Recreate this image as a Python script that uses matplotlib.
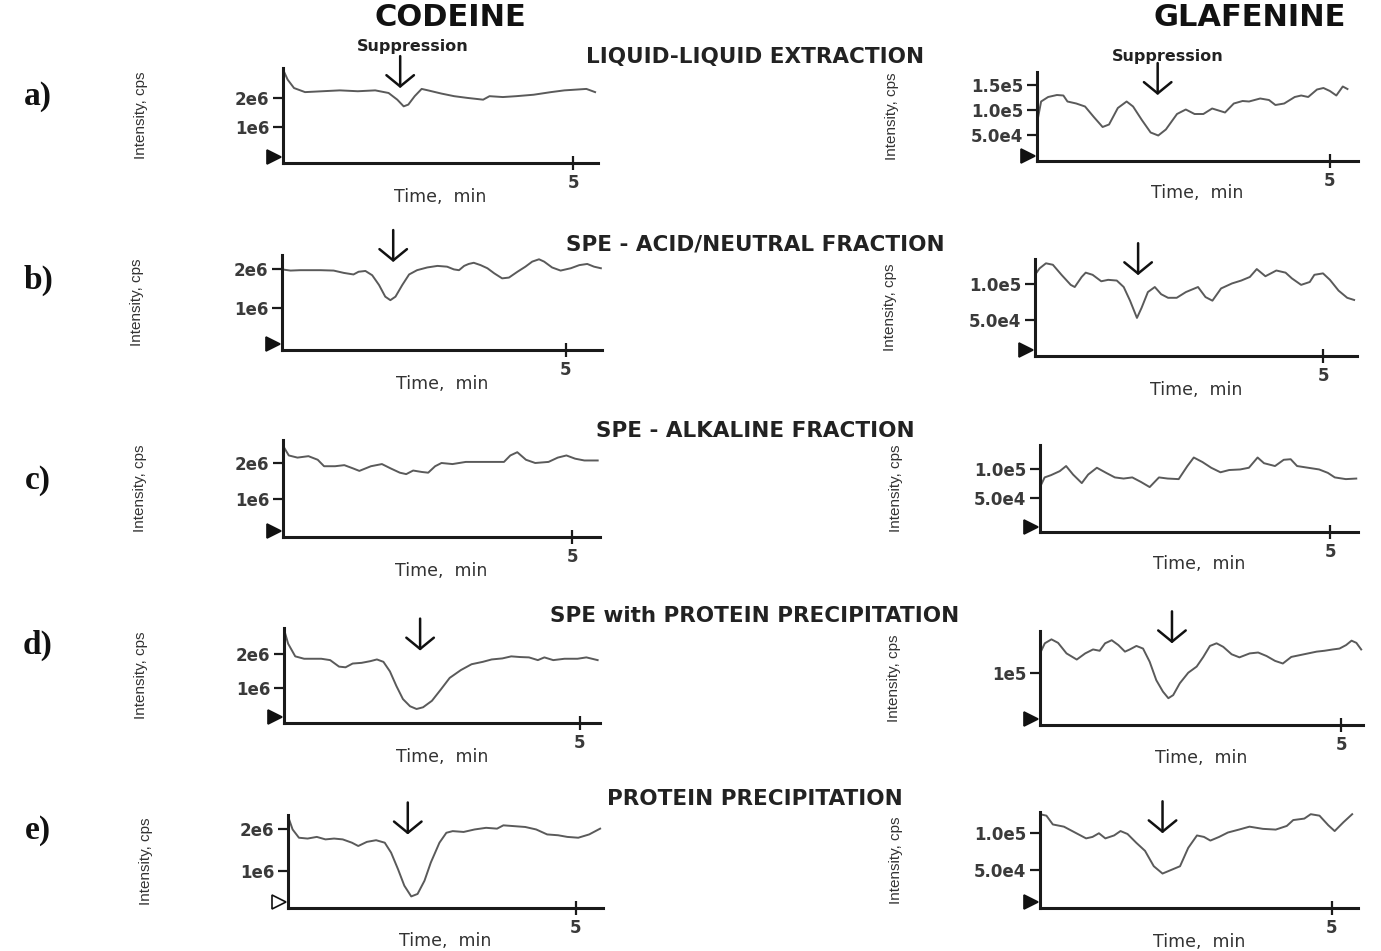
import numpy as np
import matplotlib
matplotlib.use("Agg")
import matplotlib.pyplot as plt

plt.rcParams['font.family'] = ['Liberation Sans', 'DejaVu Sans']

W, H = 1381, 951

# ---- post-column infusion traces: time (min), intensity ----
# codeine traces are in 1e6 cps, glafenine traces in 1e4 cps
cod_a_t = [0, 0.08, 0.19, 0.38, 0.68, 0.98, 1.29, 1.59, 1.82, 1.97, 2.08, 2.16, 2.27, 2.39, 2.5,
           2.73, 2.95, 3.18, 3.45, 3.56, 3.79, 4.02, 4.32, 4.62, 4.85, 5.08, 5.23, 5.38]
cod_a_y = [2.98, 2.63, 2.34, 2.2, 2.23, 2.26, 2.23, 2.26, 2.17, 1.94, 1.71, 1.77, 2.06, 2.31, 2.26,
           2.15, 2.06, 2.0, 1.94, 2.06, 2.03, 2.06, 2.11, 2.2, 2.26, 2.29, 2.31, 2.2]

gla_a_t = [0, 0.07, 0.19, 0.34, 0.45, 0.52, 0.67, 0.82, 0.97, 1.12, 1.23, 1.38, 1.53, 1.64, 1.79,
           1.94, 2.07, 2.2, 2.39, 2.54, 2.69, 2.84, 2.99, 3.1, 3.21, 3.36, 3.51, 3.62, 3.81, 3.96,
           4.07, 4.22, 4.4, 4.51, 4.63, 4.78, 4.89, 5.0, 5.11, 5.22, 5.3]
gla_a_y = [7.4, 11.7, 12.6, 13.0, 12.9, 11.7, 11.3, 10.7, 8.6, 6.6, 7.1, 10.4, 11.7, 10.7, 8.0,
           5.5, 4.9, 6.1, 9.2, 10.1, 9.2, 9.2, 10.3, 9.9, 9.5, 11.3, 11.8, 11.7, 12.3, 12.0,
           11.0, 11.3, 12.6, 12.9, 12.6, 14.1, 14.4, 13.8, 12.9, 14.7, 14.2]

cod_b_t = [0, 0.15, 0.32, 0.68, 0.91, 1.09, 1.26, 1.35, 1.47, 1.59, 1.71, 1.82, 1.91, 2.0, 2.12,
           2.24, 2.38, 2.56, 2.74, 2.91, 3.03, 3.12, 3.21, 3.29, 3.38, 3.5, 3.62, 3.74, 3.88, 4.0,
           4.15, 4.29, 4.41, 4.53, 4.62, 4.76, 4.91, 5.09, 5.24, 5.38, 5.5, 5.62]
cod_b_y = [2.0, 1.97, 1.98, 1.98, 1.97, 1.91, 1.87, 1.94, 1.96, 1.85, 1.6, 1.3, 1.21, 1.3, 1.6,
           1.87, 1.98, 2.05, 2.09, 2.07, 2.0, 1.98, 2.09, 2.14, 2.17, 2.11, 2.03, 1.9, 1.77, 1.79,
           1.94, 2.07, 2.2, 2.26, 2.2, 2.05, 1.97, 2.03, 2.11, 2.14, 2.07, 2.03]

gla_b_t = [0, 0.08, 0.19, 0.31, 0.46, 0.62, 0.69, 0.81, 0.88, 1.0, 1.15, 1.27, 1.42, 1.54, 1.65,
           1.77, 1.85, 1.96, 2.08, 2.19, 2.31, 2.46, 2.62, 2.83, 2.96, 3.08, 3.23, 3.42, 3.58, 3.73,
           3.85, 4.0, 4.19, 4.35, 4.46, 4.62, 4.77, 4.85, 5.0, 5.12, 5.27, 5.42, 5.54]
gla_b_y = [11.3, 12.2, 12.9, 12.7, 11.3, 9.9, 9.6, 11.0, 11.6, 11.3, 10.4, 10.6, 10.5, 9.6, 7.7,
           5.3, 6.7, 8.9, 9.6, 8.6, 8.1, 8.1, 8.9, 9.6, 8.2, 7.7, 9.4, 10.1, 10.5, 11.0,
           12.1, 11.1, 11.9, 11.6, 10.8, 9.9, 10.3, 11.3, 11.5, 10.6, 9.1, 8.1, 7.8]

cod_c_t = [0, 0.1, 0.25, 0.44, 0.6, 0.71, 0.9, 1.06, 1.21, 1.32, 1.52, 1.71, 1.86, 2.02, 2.13,
           2.25, 2.4, 2.51, 2.63, 2.74, 2.93, 3.16, 3.43, 3.66, 3.82, 3.93, 4.05, 4.2, 4.36, 4.59,
           4.75, 4.9, 5.05, 5.21, 5.44]
cod_c_y = [2.48, 2.21, 2.15, 2.19, 2.09, 1.91, 1.91, 1.94, 1.85, 1.78, 1.91, 1.97, 1.85, 1.73, 1.69,
           1.79, 1.75, 1.73, 1.91, 2.0, 1.97, 2.03, 2.03, 2.03, 2.03, 2.21, 2.3, 2.09, 2.0, 2.03,
           2.15, 2.21, 2.12, 2.07, 2.07]

gla_c_t = [0, 0.08, 0.19, 0.34, 0.45, 0.57, 0.72, 0.83, 0.98, 1.14, 1.29, 1.44, 1.59, 1.74, 1.89,
           2.05, 2.2, 2.39, 2.54, 2.65, 2.8, 2.95, 3.11, 3.26, 3.45, 3.6, 3.75, 3.86, 4.05, 4.2,
           4.32, 4.43, 4.62, 4.81, 4.96, 5.08, 5.27, 5.45]
gla_c_y = [6.9, 8.6, 9.0, 9.7, 10.6, 9.1, 7.6, 9.1, 10.3, 9.4, 8.6, 8.4, 8.6, 7.8, 6.9,
           8.6, 8.4, 8.3, 10.6, 12.1, 11.3, 10.3, 9.5, 9.9, 10.0, 10.3, 12.1, 11.1, 10.6, 11.7,
           11.8, 10.6, 10.3, 10.0, 9.4, 8.6, 8.3, 8.4]

cod_d_t = [0, 0.07, 0.19, 0.34, 0.63, 0.78, 0.93, 1.04, 1.16, 1.31, 1.46, 1.57, 1.68, 1.79, 1.9,
           2.01, 2.13, 2.24, 2.35, 2.5, 2.65, 2.8, 2.99, 3.17, 3.36, 3.51, 3.69, 3.84, 3.99, 4.14,
           4.29, 4.4, 4.55, 4.74, 4.96, 5.11, 5.3]
cod_d_y = [2.71, 2.29, 1.92, 1.85, 1.85, 1.81, 1.62, 1.6, 1.71, 1.73, 1.78, 1.83, 1.76, 1.48, 1.05,
           0.67, 0.46, 0.38, 0.43, 0.62, 0.95, 1.29, 1.52, 1.69, 1.76, 1.83, 1.86, 1.92, 1.9, 1.89,
           1.81, 1.89, 1.81, 1.85, 1.85, 1.89, 1.81]

gla_d_t = [0, 0.08, 0.19, 0.3, 0.44, 0.61, 0.75, 0.88, 0.99, 1.08, 1.19, 1.3, 1.41, 1.49, 1.6,
           1.71, 1.82, 1.93, 2.04, 2.13, 2.21, 2.32, 2.46, 2.6, 2.71, 2.82, 2.93, 3.04, 3.18, 3.31,
           3.48, 3.62, 3.76, 3.9, 4.03, 4.17, 4.31, 4.45, 4.59, 4.72, 4.86, 4.97, 5.08, 5.17, 5.25,
           5.33]
gla_d_y = [14.4, 16.7, 17.6, 16.8, 14.4, 13.0, 14.4, 15.3, 15.0, 16.7, 17.4, 16.3, 14.8, 15.3, 16.1,
           15.5, 12.5, 8.3, 5.7, 4.2, 4.9, 7.6, 10.0, 11.4, 13.6, 16.1, 16.7, 15.9, 14.2, 13.5,
           14.4, 14.6, 13.8, 12.7, 12.1, 13.6, 14.0, 14.4, 14.8, 15.0, 15.3, 15.5, 16.3, 17.3, 16.8,
           15.3]

cod_e_t = [0, 0.08, 0.19, 0.34, 0.5, 0.65, 0.8, 0.95, 1.11, 1.22, 1.37, 1.53, 1.68, 1.79, 1.91,
           2.02, 2.14, 2.25, 2.37, 2.48, 2.63, 2.75, 2.86, 3.05, 3.24, 3.44, 3.63, 3.74, 3.93, 4.12,
           4.31, 4.5, 4.69, 4.85, 5.04, 5.23, 5.42]
cod_e_y = [2.32, 2.0, 1.8, 1.78, 1.82, 1.76, 1.78, 1.76, 1.68, 1.6, 1.7, 1.74, 1.68, 1.44, 1.04,
           0.64, 0.38, 0.44, 0.76, 1.2, 1.68, 1.92, 1.96, 1.94, 2.0, 2.04, 2.02, 2.1, 2.08, 2.06,
           2.0, 1.88, 1.86, 1.82, 1.8, 1.88, 2.02]

gla_e_t = [0, 0.11, 0.22, 0.41, 0.6, 0.79, 0.9, 1.01, 1.12, 1.27, 1.38, 1.5, 1.65, 1.8, 1.95,
           2.1, 2.25, 2.4, 2.54, 2.69, 2.81, 2.92, 3.07, 3.22, 3.41, 3.59, 3.82, 4.04, 4.23, 4.34,
           4.53, 4.64, 4.79, 4.94, 5.05, 5.2, 5.35]
gla_e_y = [12.6, 12.4, 11.2, 10.9, 10.1, 9.3, 9.5, 10.0, 9.3, 9.7, 10.3, 9.9, 8.7, 7.6, 5.5,
           4.5, 5.0, 5.5, 8.0, 9.7, 9.5, 9.0, 9.5, 10.1, 10.5, 10.9, 10.6, 10.5, 11.0, 11.8,
           12.0, 12.6, 12.4, 11.1, 10.3, 11.5, 12.6]

# suppression arrows: (time, intensity at arrow tip), same units as the traces
arrows_cod = [(2.02, 2.34), (1.96, 2.19), None, (2.3, 2.09), (2.08, 1.88)]
arrows_gla = [(2.06, 13.0), (1.79, 11.25), None, (2.19, 16.7), (2.1, 10.0)]

row_labels = ['a)', 'b)', 'c)', 'd)', 'e)']
row_titles = ['LIQUID-LIQUID EXTRACTION', 'SPE - ACID/NEUTRAL FRACTION', 'SPE - ALKALINE FRACTION',
              'SPE with PROTEIN PRECIPITATION', 'PROTEIN PRECIPITATION']

cod_ticks = [1, 2]
cod_ticklabels = ['1e6', '2e6']

# panel frames in pixels: (x_axis_left, x_axis_right, y_top, y_bottom)
cod_boxes = [(283, 598, 68, 163), (282, 602, 255, 350), (283, 600, 440, 537),
             (284, 600, 628, 723), (288, 603, 815, 908)]
gla_boxes = [(1037, 1358, 72, 161), (1035, 1357, 259, 356), (1040, 1358, 445, 532),
             (1040, 1363, 631, 725), (1040, 1358, 812, 908)]
cod_xmax = [5.43, 5.64, 5.48, 5.34, 5.47]
gla_xmax = [5.48, 5.59, 5.48, 5.36, 5.45]
cod_ylim = [(-0.24, 3.03), (-0.07, 2.37), (-0.06, 2.64), (-0.03, 2.75), (0.1, 2.35)]
gla_ylim = [(-0.2, 17.6), (0.0, 13.5), (-1.0, 14.3), (-1.9, 19.5), (-0.2, 12.9)]
gla_ticks = [[5, 10, 15], [5, 10], [5, 10], [10], [5, 10]]
gla_ticklabels = [['5.0e4', '1.0e5', '1.5e5'], ['5.0e4', '1.0e5'], ['5.0e4', '1.0e5'],
                  ['1e5'], ['5.0e4', '1.0e5']]

cod_t = [cod_a_t, cod_b_t, cod_c_t, cod_d_t, cod_e_t]
cod_y = [cod_a_y, cod_b_y, cod_c_y, cod_d_y, cod_e_y]
gla_t = [gla_a_t, gla_b_t, gla_c_t, gla_d_t, gla_e_t]
gla_y = [gla_a_y, gla_b_y, gla_c_y, gla_d_y, gla_e_y]

fig = plt.figure(figsize=(W / 100, H / 100), dpi=100)
fig.patch.set_facecolor('white')


def make_axes(box):
    x0, x1, yt, yb = box
    return fig.add_axes([x0 / W, 1 - yb / H, (x1 - x0) / W, (yb - yt) / H])


def draw_panel(ax, t, y, xmax, ylim, ticks, ticklabels, arrow, open_marker=False):
    ax.plot(t, y, color='#5a5a5a', lw=1.4)
    ax.set_xlim(0, xmax)
    ax.set_ylim(*ylim)
    for s in ['top', 'right']:
        ax.spines[s].set_visible(False)
    for s in ['left', 'bottom']:
        ax.spines[s].set_linewidth(2.2)
        ax.spines[s].set_color('#1a1a1a')
    ax.set_facecolor('none')
    ax.set_yticks(ticks)
    ax.set_yticklabels(ticklabels, fontsize=12, fontweight='bold', color='#3a3a3a',
                       family='DejaVu Sans')
    ax.set_xticks([5])
    ax.set_xticklabels(['5'], fontsize=12, fontweight='bold', color='#3a3a3a',
                       family='DejaVu Sans')
    ax.tick_params(axis='y', direction='out', length=7, width=1.6, pad=3, color='#1a1a1a')
    ax.tick_params(axis='x', direction='inout', length=10, width=1.6, pad=3, color='#1a1a1a')
    ax.set_ylabel('Intensity, cps', fontsize=11, color='#333333')
    ax.yaxis.set_label_coords(-0.43, 0.5)
    ax.set_xlabel('Time,  min', fontsize=12.5, color='#333333', family='DejaVu Sans')
    ax.xaxis.set_label_coords(0.5, -0.26)
    # start-of-run marker at the origin
    ax.plot([-0.028], [0.06], transform=ax.transAxes, marker='>', markersize=10,
            markerfacecolor='white' if open_marker else '#111111',
            markeredgecolor='#111111', markeredgewidth=1.2, clip_on=False)
    if arrow is not None:
        ax.annotate('', xy=arrow, xytext=(0, 23), textcoords='offset points',
                    arrowprops=dict(arrowstyle='->, head_length=0.45, head_width=0.55',
                                    lw=1.8, color='#111111', mutation_scale=18,
                                    shrinkA=0, shrinkB=0),
                    annotation_clip=False)


for i in range(5):
    ax = make_axes(cod_boxes[i])
    draw_panel(ax, cod_t[i], cod_y[i], cod_xmax[i], cod_ylim[i], cod_ticks,
               cod_ticklabels, arrows_cod[i], open_marker=(i == 4))
    ax2 = make_axes(gla_boxes[i])
    draw_panel(ax2, gla_t[i], gla_y[i], gla_xmax[i], gla_ylim[i], gla_ticks[i],
               gla_ticklabels[i], arrows_gla[i])

# row labels and extraction method titles
label_y = [97, 280, 480, 645, 830]
title_y = [57, 245, 431, 616, 799]
for i in range(5):
    fig.text(38 / W, 1 - label_y[i] / H, row_labels[i], fontsize=24, fontweight='bold',
             family='Liberation Serif', ha='center', va='center', color='#111111')
    fig.text(755 / W, 1 - title_y[i] / H, row_titles[i], fontsize=15.5, fontweight='bold',
             family='DejaVu Sans', ha='center', va='center', color='#222222')

fig.text(450 / W, 1 - 17 / H, 'CODEINE', fontsize=22, fontweight='bold',
         family='DejaVu Sans', ha='center', va='center', color='#111111')
fig.text(1250 / W, 1 - 17 / H, 'GLAFENINE', fontsize=22, fontweight='bold',
         family='DejaVu Sans', ha='center', va='center', color='#111111')
fig.text(413 / W, 1 - 47 / H, 'Suppression', fontsize=11.5, fontweight='bold',
         family='DejaVu Sans', ha='center', va='center', color='#222222')
fig.text(1168 / W, 1 - 57 / H, 'Suppression', fontsize=11.5, fontweight='bold',
         family='DejaVu Sans', ha='center', va='center', color='#222222')

fig.savefig('out.png', dpi=100, facecolor='white')
